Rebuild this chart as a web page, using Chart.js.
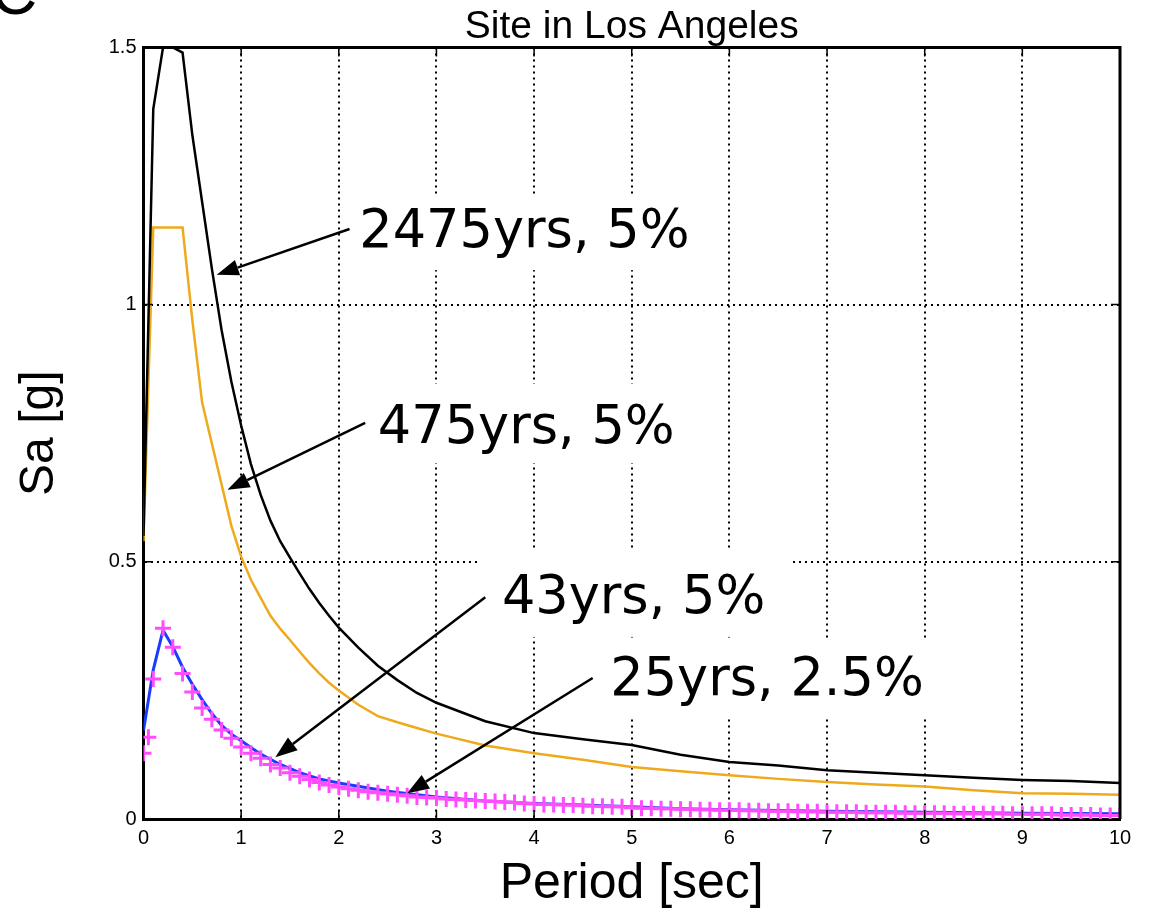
<!DOCTYPE html>
<html lang="en">
<head>
<meta charset="UTF-8">
<title>Site in Los Angeles</title>
<style>
  body { margin: 0; background: #fff; }
  #wrap { width: 1149px; height: 914px; position: relative; }
</style>
</head>
<body>
<div id="wrap"><canvas id="spectra"></canvas></div>
<script src="https://cdn.jsdelivr.net/npm/chart.js"></script>
<script>
// values (period in sec, Sa in g)
const chartTitle = 'Site in Los Angeles';

const hazardPeriods = [0, 0.1, 0.2, 0.3, 0.4, 0.5, 0.6, 0.7, 0.8, 0.9, 1.0, 1.1, 1.2, 1.3, 1.4, 1.5, 1.6, 1.7, 1.8, 1.9, 2.0,
  2.2, 2.4, 2.6, 2.8, 3.0, 3.5, 4, 4.5, 5, 5.5, 6, 6.5, 7, 7.5, 8, 8.5, 9, 9.5, 10];
const sa2475 = [0.55, 1.38, 1.50, 1.50, 1.49, 1.33, 1.20, 1.07, 0.95, 0.85, 0.765, 0.69, 0.63, 0.58, 0.54, 0.508, 0.477, 0.447, 0.42, 0.395, 0.372,
  0.333, 0.298, 0.27, 0.245, 0.226, 0.19, 0.167, 0.155, 0.144, 0.125, 0.111, 0.104, 0.095, 0.09, 0.085, 0.08, 0.076, 0.074, 0.070];
const sa475 = [0.54, 1.15, 1.15, 1.15, 1.15, 0.97, 0.81, 0.73, 0.65, 0.57, 0.51, 0.465, 0.43, 0.395, 0.37, 0.348, 0.325, 0.303, 0.283, 0.265, 0.25,
  0.222, 0.20, 0.188, 0.177, 0.166, 0.143, 0.128, 0.115, 0.101, 0.093, 0.085, 0.078, 0.072, 0.067, 0.063, 0.056, 0.050, 0.049, 0.047];

const periods43 = [0, 0.1, 0.2, 0.3, 0.4, 0.5, 0.6, 0.7, 0.8, 0.9, 1.0, 1.2, 1.4, 1.6, 1.8, 2.0, 2.5, 3.0, 3.5, 4, 4.5, 5, 5.5, 6, 7, 8, 9, 10];
const sa43 = [0.172, 0.29, 0.367, 0.335, 0.295, 0.262, 0.232, 0.205, 0.182, 0.165, 0.152, 0.126, 0.106, 0.090, 0.078, 0.070, 0.054, 0.043, 0.035,
  0.030, 0.027, 0.024, 0.020, 0.018, 0.015, 0.013, 0.011, 0.010];

const periods25 = [0, 0.05, 0.1, 0.2, 0.3, 0.4, 0.5, 0.6, 0.7, 0.8, 0.9,
  1.0, 1.1, 1.2, 1.3, 1.4, 1.5, 1.6, 1.7, 1.8, 1.9,
  2.0, 2.1, 2.2, 2.3, 2.4, 2.5, 2.6, 2.7, 2.8, 2.9,
  3.0, 3.1, 3.2, 3.3, 3.4, 3.5, 3.6, 3.7, 3.8, 3.9,
  4.0, 4.1, 4.2, 4.3, 4.4, 4.5, 4.6, 4.7, 4.8, 4.9,
  5.0, 5.1, 5.2, 5.3, 5.4, 5.5, 5.6, 5.7, 5.8, 5.9,
  6.0, 6.1, 6.2, 6.3, 6.4, 6.5, 6.6, 6.7, 6.8, 6.9,
  7.0, 7.1, 7.2, 7.3, 7.4, 7.5, 7.6, 7.7, 7.8, 7.9,
  8.0, 8.1, 8.2, 8.3, 8.4, 8.5, 8.6, 8.7, 8.8, 8.9,
  9.0, 9.1, 9.2, 9.3, 9.4, 9.5, 9.6, 9.7, 9.8, 9.9, 10.0];
const sa25 = [0.128, 0.159, 0.272, 0.371, 0.334, 0.283, 0.247, 0.216, 0.194, 0.173, 0.157,
  0.140, 0.128, 0.118, 0.106, 0.099, 0.090, 0.083, 0.077, 0.071, 0.066,
  0.062, 0.059, 0.056, 0.053, 0.051, 0.049, 0.047, 0.045, 0.043, 0.042,
  0.041, 0.039, 0.038, 0.037, 0.036, 0.035, 0.034, 0.033, 0.032, 0.030,
  0.029, 0.028, 0.028, 0.027, 0.027, 0.026, 0.025, 0.025, 0.024, 0.024,
  0.022, 0.021, 0.021, 0.020, 0.020, 0.019, 0.019, 0.018, 0.018, 0.017,
  0.017, 0.017, 0.016, 0.016, 0.015, 0.015, 0.015, 0.014, 0.014, 0.014,
  0.013, 0.013, 0.013, 0.013, 0.012, 0.012, 0.012, 0.012, 0.011, 0.011,
  0.011, 0.011, 0.011, 0.010, 0.010, 0.010, 0.010, 0.010, 0.010, 0.009,
  0.009, 0.009, 0.009, 0.009, 0.008, 0.008, 0.008, 0.008, 0.007, 0.007, 0.007];

const xTickValues = [0, 1, 2, 3, 4, 5, 6, 7, 8, 9, 10];
const xTickLabels = ['0', '1', '2', '3', '4', '5', '6', '7', '8', '9', '10'];
const yTickValues = [0, 0.5, 1, 1.5];
const yTickLabels = ['0', '0.5', '1', '1.5'];

// callouts, all in data units
const calloutText = ['2475yrs, 5%', '475yrs, 5%', '43yrs, 5%', '25yrs, 2.5%'];
const calloutAt = [[2.21, 1.112], [2.40, 0.731], [3.67, 0.400], [4.78, 0.241]];   // text start, baseline
const calloutTail = [[2.11, 1.147], [2.27, 0.770], [3.50, 0.431], [4.60, 0.274]];
const calloutTip = [[0.75, 1.058], [0.86, 0.640], [1.35, 0.120], [2.70, 0.050]];
const calloutBox = [[2.06, 1.215, 5.72, 1.067], [2.30, 0.846, 5.50, 0.692], [3.45, 0.523, 6.62, 0.354], [4.57, 0.348, 8.30, 0.198]];

const pts = (xs, ys) => xs.map((x, i) => ({ x: x, y: ys[i] }));

const notes = {
  id: 'notes',
  beforeDatasetsDraw(chart) {
    // white patches behind the callout texts hide the grid
    const { ctx, scales: { x, y } } = chart;
    ctx.save();
    ctx.fillStyle = '#fff';
    calloutBox.forEach(b => {
      const x1 = x.getPixelForValue(b[0]), y1 = y.getPixelForValue(b[1]);
      const x2 = x.getPixelForValue(b[2]), y2 = y.getPixelForValue(b[3]);
      ctx.fillRect(x1, y1, x2 - x1, y2 - y1);
    });
    ctx.restore();
  },
  afterDraw(chart) {
    const { ctx, chartArea: a, scales: { x, y } } = chart;
    ctx.save();
    ctx.strokeStyle = '#000';
    ctx.fillStyle = '#000';

    // title, centred over the plot box
    ctx.font = '39px "Liberation Sans", Arial, sans-serif';
    ctx.textAlign = 'center';
    ctx.textBaseline = 'alphabetic';
    ctx.fillText(chartTitle, (a.left + a.right) / 2, a.top - 9);

    // top / right frame
    ctx.lineWidth = 3;
    ctx.beginPath();
    ctx.moveTo(a.left, a.top);
    ctx.lineTo(a.right, a.top);
    ctx.lineTo(a.right, a.bottom);
    ctx.stroke();

    // inward tick marks
    ctx.lineWidth = 1.5;
    xTickValues.slice(1, -1).forEach(v => {
      const px = x.getPixelForValue(v);
      ctx.beginPath();
      ctx.moveTo(px, a.top); ctx.lineTo(px, a.top + 9);
      ctx.moveTo(px, a.bottom); ctx.lineTo(px, a.bottom - 9);
      ctx.stroke();
    });
    yTickValues.slice(1, -1).forEach(v => {
      const py = y.getPixelForValue(v);
      ctx.beginPath();
      ctx.moveTo(a.left, py); ctx.lineTo(a.left + 9, py);
      ctx.moveTo(a.right, py); ctx.lineTo(a.right - 9, py);
      ctx.stroke();
    });

    // arrows and their labels
    ctx.lineWidth = 2.5;
    calloutText.forEach((t, i) => {
      const x0 = x.getPixelForValue(calloutTail[i][0]), y0 = y.getPixelForValue(calloutTail[i][1]);
      const x1 = x.getPixelForValue(calloutTip[i][0]), y1 = y.getPixelForValue(calloutTip[i][1]);
      const ang = Math.atan2(y1 - y0, x1 - x0);
      const head = 22, half = 8;
      const bx = x1 - head * Math.cos(ang), by = y1 - head * Math.sin(ang);
      ctx.beginPath();
      ctx.moveTo(x0, y0);
      ctx.lineTo(bx, by);
      ctx.stroke();
      ctx.beginPath();
      ctx.moveTo(x1, y1);
      ctx.lineTo(bx - half * Math.sin(ang), by + half * Math.cos(ang));
      ctx.lineTo(bx + half * Math.sin(ang), by - half * Math.cos(ang));
      ctx.closePath();
      ctx.fill();

      ctx.font = '52.5px "DejaVu Sans"';
      ctx.textAlign = 'left';
      ctx.fillText(t, x.getPixelForValue(calloutAt[i][0]), y.getPixelForValue(calloutAt[i][1]));
    });

    // cropped panel letter at the top-left corner
    ctx.font = '64px "Liberation Sans"';
    ctx.fillText('C', -9, 14);
    ctx.restore();
  }
};

new Chart(document.getElementById('spectra'), {
  type: 'scatter',
  data: {
    datasets: [
      {
        label: '25yrs, 2.5%',
        data: pts(periods25, sa25),
        showLine: false,
        pointStyle: 'cross',
        pointRadius: 8,
        pointBorderWidth: 3,
        borderColor: '#ff4cff',
        backgroundColor: '#ff4cff'
      },
      {
        label: '43yrs, 5%',
        data: pts(periods43, sa43),
        showLine: true,
        pointRadius: 0,
        borderWidth: 3,
        borderColor: '#1a3cff'
      },
      {
        label: '2475yrs, 5%',
        data: pts(hazardPeriods, sa2475),
        showLine: true,
        pointRadius: 0,
        borderWidth: 2.5,
        borderColor: '#000000'
      },
      {
        label: '475yrs, 5%',
        data: pts(hazardPeriods, sa475),
        showLine: true,
        pointRadius: 0,
        borderWidth: 2.5,
        borderColor: '#eeaa1c'
      }
    ]
  },
  options: {
    responsive: true,
    maintainAspectRatio: false,
    animation: false,
    layout: { padding: { left: 0, right: 29, top: 47.4, bottom: 0 } },
    plugins: {
      legend: { display: false },
      tooltip: { enabled: false },
      title: { display: false }
    },
    scales: {
      x: {
        type: 'linear',
        min: 0,
        max: 10,
        afterFit: s => { s.height = 95; },
        afterBuildTicks: s => { s.ticks = xTickValues.map(v => ({ value: v })); },
        ticks: {
          color: '#000',
          padding: 7,
          maxRotation: 0,
          font: { family: '"Liberation Sans", Arial, sans-serif', size: 20 },
          callback: v => xTickLabels[xTickValues.indexOf(v)]
        },
        grid: { color: '#000', lineWidth: 2, drawTicks: false },
        border: { color: '#000', width: 3, dash: [2, 4] },
        title: {
          display: true,
          text: 'Period [sec]',
          color: '#000',
          font: { family: '"Liberation Sans", Arial, sans-serif', size: 50, lineHeight: 1.2 },
          padding: { top: 0, bottom: 0 }
        }
      },
      y: {
        type: 'linear',
        min: 0,
        max: 1.5,
        afterFit: s => { s.width = 143.5; },
        afterBuildTicks: s => { s.ticks = yTickValues.map(v => ({ value: v })); },
        ticks: {
          color: '#000',
          padding: 7,
          font: { family: '"Liberation Sans", Arial, sans-serif', size: 20 },
          callback: v => yTickLabels[yTickValues.indexOf(v)]
        },
        grid: { color: '#000', lineWidth: 2, drawTicks: false },
        border: { color: '#000', width: 3, dash: [2, 4] },
        title: {
          display: true,
          text: 'Sa [g]',
          color: '#000',
          font: { family: '"Liberation Sans", Arial, sans-serif', size: 48, lineHeight: 1.2 },
          padding: { top: 11, bottom: 0 }
        }
      }
    }
  },
  plugins: [notes]
});
</script>
</body>
</html>
